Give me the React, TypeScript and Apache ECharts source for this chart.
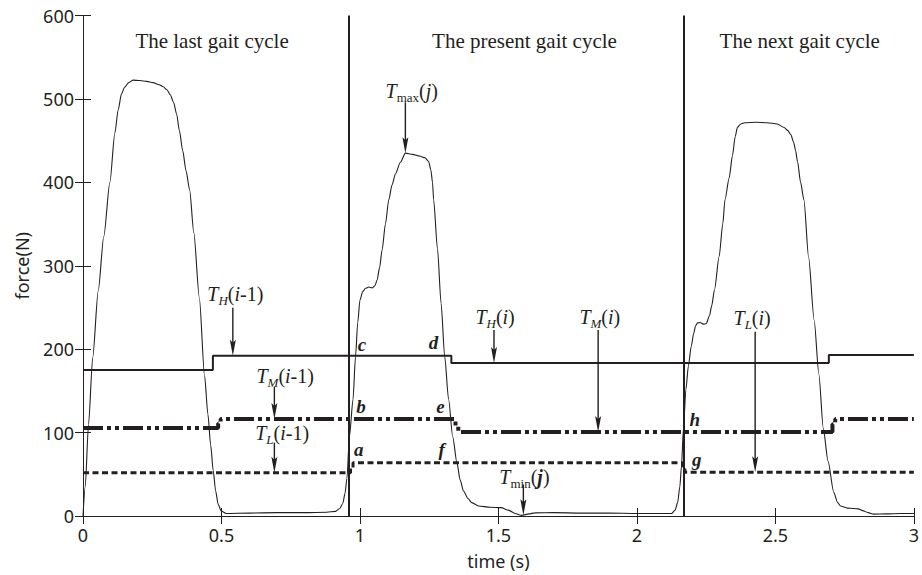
import React, { useEffect, useRef } from "react";
import * as echarts from "echarts";

const INK = "#231f20";
const SERIF = "'Liberation Serif', 'Times New Roman', serif";
const SANS = "'Noto Sans', 'Open Sans', sans-serif";

// ---- force curve (time in s, force in N) ----
const forceTime = [
  0, 0.008, 0.02, 0.035, 0.055, 0.075, 0.097, 0.115, 0.127, 0.139, 0.15, 0.165, 0.181, 0.205, 0.23, 0.253,
  0.275, 0.29, 0.303, 0.315, 0.327, 0.338, 0.348, 0.36, 0.372, 0.385, 0.4, 0.42, 0.439, 0.451, 0.461, 0.47,
  0.479, 0.488, 0.499, 0.517, 0.6, 0.7, 0.8, 0.88, 0.912, 0.927, 0.938, 0.946, 0.953,
  0.962, 0.975, 0.984, 0.992, 1.0, 1.01, 1.02, 1.032, 1.044, 1.054, 1.062, 1.071, 1.08, 1.092, 1.104, 1.116,
  1.128, 1.146, 1.164, 1.19, 1.215, 1.235, 1.248, 1.256, 1.262, 1.266, 1.28, 1.293, 1.306, 1.32, 1.335, 1.35,
  1.362, 1.374, 1.39, 1.404, 1.428, 1.47, 1.51, 1.536, 1.56, 1.584, 1.61, 1.632, 1.7, 1.8, 1.9, 2.0, 2.1,
  2.125, 2.138, 2.147, 2.155, 2.161, 2.168,
  2.177, 2.186, 2.196, 2.205, 2.212, 2.219, 2.228, 2.24, 2.25, 2.262, 2.27, 2.28, 2.297, 2.31, 2.318, 2.333,
  2.345, 2.355, 2.363, 2.375, 2.39, 2.43, 2.47, 2.507, 2.53, 2.545, 2.556, 2.566, 2.573, 2.58, 2.591, 2.603,
  2.62, 2.64, 2.657, 2.673, 2.69, 2.711, 2.725, 2.735, 2.76, 2.783, 2.8, 2.815, 2.835, 2.855, 2.9, 2.95, 3.0,
];
const forceValue = [
  0, 35, 110, 190, 270, 335, 400, 459, 487, 506, 514, 519.5, 522.5, 522, 521, 519.5,
  517, 514.5, 511, 505, 496, 482, 462, 438, 414, 391, 340, 262, 168, 122, 85, 55,
  30, 14, 6, 3, 3.5, 4, 4, 4.5, 5.5, 9, 15, 27, 45,
  95, 140, 191, 232, 259, 269, 273, 274.5, 273.5, 276, 283, 298, 319, 350, 379, 397,
  410, 424, 435, 433.5, 431.5, 429.5, 425, 415, 400, 379, 320, 255, 191, 140, 95, 64,
  43, 30, 21, 16, 12, 10.5, 10, 7, 3, 0.8, 2.5, 3.8, 4, 3.5, 3.5, 3, 3,
  3, 7, 16, 35, 60, 105,
  152, 180, 203, 219, 228, 231.5, 232, 230, 230.5, 240, 252, 271, 311, 350, 379, 405,
  432, 455, 466, 470, 471.5, 472, 471.5, 470, 466, 462, 457, 448, 438, 425, 400, 379,
  310, 235, 170, 105, 66, 28, 16, 12, 9.5, 9, 8.5, 6.5, 4, 2.2, 2.5, 3, 3,
];

// ---- thresholds (step functions: level starts at given time) ----
const thHighTime = [0, 0.469, 1.33, 2.693];
const thHighValue = [175, 192, 183.5, 193];
const thMidTime = [0, 0.488, 0.497, 1.345, 1.355, 2.706, 2.716];
const thMidValue = [105.6, 111, 116.4, 108, 100.8, 110, 116.4];
const thLowTime = [0, 0.966, 0.975, 2.165, 2.173];
const thLowValue = [51.7, 58, 63.7, 58, 52.5];
const X_MAX = 3;

// ---- gait cycle boundaries and titles ----
const cycleBoundaries = [0.956, 2.165];
const cycleTitles = ["The last gait cycle", "The present gait cycle", "The next gait cycle"];
const cycleTitleX = [0.466, 1.594, 2.588];
const cycleTitleY = 569;

// ---- arrow annotations ----
const arrowX = [0.541, 0.691, 0.691, 1.484, 1.86, 2.427, 1.164, 1.59];
const arrowFrom = [249.7, 155, 88, 223, 223, 221, 496, 37.7];
const arrowTo = [192, 116.4, 51.7, 183.5, 100.8, 52.5, 435, 0.8];
const labelText = [
  "{t|T}{si|H}{r|(}{t|i}{r|-1)}",
  "{t|T}{si|M}{r|(}{t|i}{r|-1)}",
  "{t|T}{si|L}{r|(}{t|i}{r|-1)}",
  "{t|T}{si|H}{r|(}{t|i}{r|)}",
  "{t|T}{si|M}{r|(}{t|i}{r|)}",
  "{t|T}{si|L}{r|(}{t|i}{r|)}",
  "{t|T}{sr|max}{r|(}{t|j}{r|)}",
  "{t|T}{sr|min}{r|(}{bj|j}{r|)}",
];
const labelX = [0.55, 0.73, 0.719, 1.488, 1.866, 2.416, 1.187, 1.594];
const labelY = [266.5, 168.3, 100, 239, 239, 237.7, 509.6, 47.3];

// ---- point letters ----
const letterText = ["a", "b", "c", "d", "e", "f", "g", "h"];
const letterX = [0.996, 1.004, 1.007, 1.266, 1.291, 1.295, 2.216, 2.209];
const letterY = [79.6, 131, 205.4, 207.8, 131, 79.6, 67.7, 115.6];

function stepPoints(times: number[], values: number[], end: number) {
  const pts: number[][] = [];
  for (let i = 0; i < times.length; i++) {
    const next = i + 1 < times.length ? times[i + 1] : end;
    pts.push([times[i], values[i]]);
    pts.push([next, values[i]]);
  }
  return pts;
}

const rich = {
  t: { fontFamily: SERIF, fontStyle: "italic", fontSize: 20, fill: INK },
  r: { fontFamily: SERIF, fontSize: 20, fill: INK },
  bj: { fontFamily: SERIF, fontStyle: "italic", fontWeight: "bold", fontSize: 20, fill: INK },
  si: { fontFamily: SERIF, fontStyle: "italic", fontSize: 13, fill: INK, padding: [13, 0, 0, 0] },
  sr: { fontFamily: SERIF, fontSize: 13, fill: INK, padding: [13, 0, 0, 0] },
};

export default function App() {
  const ref = useRef<HTMLDivElement>(null);
  useEffect(() => {
    if (!ref.current) return;
    const chart = echarts.init(ref.current, null, { renderer: "svg" });
    const axisCommon = {
      type: "value" as const,
      axisLine: { show: true, lineStyle: { color: INK, width: 1 } },
      axisTick: { show: true, inside: true, length: 8, lineStyle: { color: INK, width: 1 } },
      splitLine: { show: false },
    };
    const option: any = {
      animation: false,
      backgroundColor: "#fff",
      grid: { left: 83, right: 5, top: 15.5, bottom: 58.5 },
      xAxis: [
        {
          ...axisCommon,
          min: 0,
          max: 3,
          interval: 0.5,
          position: "bottom",
          axisLabel: { color: INK, fontSize: 18, fontFamily: SANS, margin: 10 },
          name: "time (s)",
          nameLocation: "middle",
          nameGap: 36,
          nameTextStyle: { color: INK, fontSize: 18, fontFamily: SANS },
        },
        {
          ...axisCommon,
          min: 0,
          max: 3,
          interval: 0.5,
          position: "top",
          axisLabel: { show: false },
        },
      ],
      yAxis: [
        {
          ...axisCommon,
          min: 0,
          max: 600,
          interval: 100,
          position: "left",
          axisLabel: { color: INK, fontSize: 18, fontFamily: SANS, margin: 9 },
          name: "force(N)",
          nameLocation: "middle",
          nameGap: 52,
          nameTextStyle: { color: INK, fontSize: 18, fontFamily: SANS },
        },
        {
          ...axisCommon,
          min: 0,
          max: 600,
          interval: 100,
          position: "right",
          axisLabel: { show: false },
        },
      ],
      series: [
        {
          type: "line",
          name: "force",
          data: forceTime.map((t, i) => [t, forceValue[i]]),
          showSymbol: false,
          smooth: 0.25,
          smoothMonotone: "x",
          lineStyle: { color: INK, width: 1.1 },
          z: 3,
          markLine: {
            silent: true,
            symbol: "none",
            label: { show: false },
            lineStyle: { color: INK, width: 2, type: "solid" },
            data: cycleBoundaries.map((x) => ({ xAxis: x })),
          },
        },
        {
          type: "line",
          name: "TH",
          data: stepPoints(thHighTime, thHighValue, X_MAX),
          showSymbol: false,
          lineStyle: { color: INK, width: 2 },
          z: 4,
        },
        {
          type: "line",
          name: "TM",
          data: stepPoints(thMidTime, thMidValue, X_MAX),
          showSymbol: false,
          lineStyle: { color: INK, width: 4, type: [20, 4, 4, 4, 4, 4] },
          z: 4,
        },
        {
          type: "line",
          name: "TL",
          data: stepPoints(thLowTime, thLowValue, X_MAX),
          showSymbol: false,
          lineStyle: { color: INK, width: 3, type: [6, 3.5] },
          z: 4,
        },
      ],
    };
    chart.setOption(option);

    const toPx = (x: number, y: number) =>
      chart.convertToPixel({ xAxisIndex: 0, yAxisIndex: 0 }, [x, y]) as number[];

    const elements: any[] = [];
    cycleTitles.forEach((title, i) => {
      const [px, py] = toPx(cycleTitleX[i], cycleTitleY);
      elements.push({
        type: "text",
        x: px,
        y: py,
        z: 100,
        style: { text: title, fontFamily: SERIF, fontSize: 21, fill: INK, align: "center", verticalAlign: "middle" },
      });
    });
    arrowX.forEach((ax, i) => {
      const [px, py1] = toPx(ax, arrowFrom[i]);
      const [, py2] = toPx(ax, arrowTo[i]);
      const headLen = 16;
      const headW = 3;
      elements.push({
        type: "line",
        z: 100,
        shape: { x1: px, y1: py1, x2: px, y2: py2 - headLen + 4 },
        style: { stroke: INK, lineWidth: 1.4 },
      });
      elements.push({
        type: "polygon",
        z: 100,
        shape: {
          points: [
            [px - headW, py2 - headLen],
            [px, py2 - headLen + 3],
            [px + headW, py2 - headLen],
            [px, py2],
          ],
        },
        style: { fill: INK },
      });
      const [lx, ly] = toPx(labelX[i], labelY[i]);
      elements.push({
        type: "text",
        x: lx,
        y: ly,
        z: 100,
        style: { text: labelText[i], rich, fill: INK, align: "center", verticalAlign: "middle" },
      });
    });
    letterText.forEach((l, i) => {
      const [px, py] = toPx(letterX[i], letterY[i]);
      elements.push({
        type: "text",
        x: px,
        y: py,
        z: 100,
        style: {
          text: l,
          fontFamily: SERIF,
          fontStyle: "italic",
          fontWeight: "bold",
          fontSize: 19,
          fill: INK,
          align: "center",
          verticalAlign: "middle",
        },
      });
    });
    chart.setOption({ graphic: { elements } });

    return () => chart.dispose();
  }, []);
  return (
    <div
      ref={ref}
      style={{ position: "fixed", left: 0, top: 0, width: 922, height: 575, background: "#fff" }}
    />
  );
}
